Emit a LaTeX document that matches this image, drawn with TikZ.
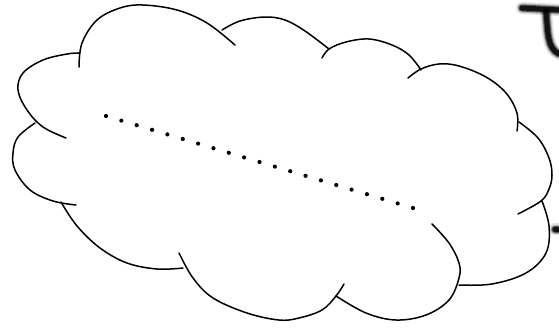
\documentclass[tikz,border=0pt]{standalone}
\begin{document}
\begin{tikzpicture}[x=1pt,y=-1pt,
  puff/.style={draw=black,line width=1.5pt,line cap=round},
  smear/.style={line cap=round,draw=black}]
\useasboundingbox (0,0) rectangle (559,327);
\fill[white] (0,0) rectangle (559,327);
% cloud puffs
\draw[puff] plot[smooth,tension=0.6] coordinates {(79,67) (82,43) (97,20) (120,8) (143,5) (177,10) (207,23) (235,45)};
\draw[puff] plot[smooth,tension=0.6] coordinates {(222,30) (240,21) (265,17) (285,20) (305,31) (329,49)};
\draw[puff] plot[smooth,tension=0.6] coordinates {(322,58) (329,49) (346,42) (369,39) (392,45) (409,55) (421,70)};
\draw[puff] plot[smooth,tension=0.6] coordinates {(408,78) (421,69) (439,64) (459,66) (486,77) (506,93) (517,113) (517,131)};
\draw[puff] plot[smooth,tension=0.6] coordinates {(519,122) (538,138) (549,158) (552,175) (549,189) (541,201) (518,214)};
\draw[puff] plot[smooth,tension=0.6] coordinates {(542,201) (549,226) (546,253) (526,273) (492,284) (459,285)};
\draw[puff] plot[smooth,tension=0.6] coordinates {(432,224) (449,243) (459,263) (459,278) (449,300) (426,315) (396,320) (366,313) (336,296)};
\draw[puff] plot[smooth,tension=0.6] coordinates {(344,284) (336,296) (322,310) (299,318) (279,320) (247,313) (213,298) (193,278) (179,253)};
\draw[puff] plot[smooth,tension=0.6] coordinates {(183,268) (157,269) (127,263) (100,248) (77,226) (61,202)};
\draw[puff] plot[smooth,tension=0.6] coordinates {(76,205) (53,201) (30,190) (15,170) (13,153) (18,137) (35,123)};
\draw[puff] plot[smooth,tension=0.6] coordinates {(66,138) (43,127) (27,110) (18,90) (23,73) (43,60) (67,54) (79,53)};
% dotted line
\foreach \i in {0,...,20}{
  \fill[black] ({106+\i*307/20},{116+\i*92/20}) circle (2.1);
}
% blurred fragments at the right edge
\foreach \w/\o in {12/0.12,9/0.25,7/0.45,5/0.8}{
  \draw[smear,line width=\w pt,opacity=\o] (522,8) -- (559,10);
  \draw[smear,line width=\w pt,opacity=\o] (546,12) .. controls (548,32) and (547,48) .. (559,54);
  \draw[smear,line width=\w pt,opacity=\o] (555,229) -- (560,229);
}
\end{tikzpicture}
\end{document}
